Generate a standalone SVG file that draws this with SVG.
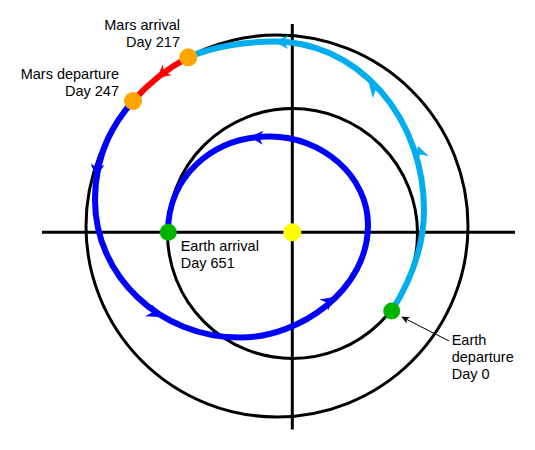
<svg xmlns="http://www.w3.org/2000/svg" xmlns:xlink="http://www.w3.org/1999/xlink" width="535" height="450" viewBox="0 0 535 450">
<defs>
<style>
.orbit{fill:none;stroke:#000;stroke-width:3}
.axis{stroke:#000;stroke-width:3}
.traj{fill:none;stroke-width:6}
.blue{stroke:#0000ff}
.lblue{stroke:#00aeef}
.red{stroke:#ff0000}
.lbl{font-family:"Liberation Sans",Arial,Helvetica,sans-serif;font-size:14.5px;fill:#000}
.end{text-anchor:end}
</style>
<path id="ah" d="M0,0 L-13,-7 L-9,0 L-13,7 Z"/>
<marker id="pt" viewBox="0 0 10 10" refX="9" refY="5" markerWidth="8" markerHeight="8" markerUnits="userSpaceOnUse" orient="auto">
<path d="M0,0.5 L10,5 L0,9.5 L2.5,5 Z" fill="#000"/>
</marker>
</defs>
<g id="orbits">
<circle class="orbit" cx="277" cy="226" r="191"/>
<circle class="orbit" cx="292.5" cy="233.5" r="125"/>
<line class="axis" x1="42" y1="232.3" x2="515" y2="232.3"/>
<line class="axis" x1="292.3" y1="24" x2="292.3" y2="429.5"/>
</g>
<g id="connectors">
<path class="traj blue" d="M133,101 C116.6,120 95,150 95,200 C95,276 160,337.5 240,337.5 C300,337.5 368,290 368,225 C368,176 322,136.5 270,136.5 C212,136.5 168,177 168,232"/>
<path class="traj lblue" d="M391.7,311 C408,285 424,250 424,210 A149,168.5 0 0 0 275,41.5 C245,41.5 212,47 188.3,57.3"/>
<path class="traj red" d="M188.3,57.3 A191,191 0 0 0 133,101"/>
<g fill="#0000ff">
<use xlink:href="#ah" transform="translate(96,177) rotate(97)"/>
<use xlink:href="#ah" transform="translate(160,317) rotate(31)"/>
<use xlink:href="#ah" transform="translate(334,297) rotate(-38)"/>
<use xlink:href="#ah" transform="translate(250,137) rotate(183)"/>
</g>
<g fill="#00aeef">
<use xlink:href="#ah" transform="translate(418,146) rotate(-108)"/>
<use xlink:href="#ah" transform="translate(369,84) rotate(-134)"/>
<use xlink:href="#ah" transform="translate(275,42) rotate(180)"/>
</g>
<use xlink:href="#ah" fill="#ff0000" transform="translate(157,78) rotate(141)"/>
<line x1="449" y1="341" x2="402" y2="317" stroke="#000" stroke-width="1" marker-end="url(#pt)"/>
</g>
<g id="sun">
<circle cx="292.3" cy="232.3" r="9" fill="#ffff00"/>
</g>
<g id="earth-departure">
<circle cx="391.7" cy="311" r="8.5" fill="#00b400"/>
<text class="lbl" x="451.7" y="345.3">Earth</text>
<text class="lbl" x="451.7" y="362">departure</text>
<text class="lbl" x="451.7" y="379">Day 0</text>
</g>
<g id="mars-arrival">
<circle cx="188.3" cy="57.3" r="9" fill="#ffa500"/>
<text class="lbl end" x="180" y="30">Mars arrival</text>
<text class="lbl end" x="180" y="46.7">Day 217</text>
</g>
<g id="mars-departure">
<circle cx="133" cy="101" r="9" fill="#ffa500"/>
<text class="lbl end" x="119" y="79">Mars departure</text>
<text class="lbl end" x="119" y="96">Day 247</text>
</g>
<g id="earth-arrival">
<circle cx="168.3" cy="232.3" r="8.5" fill="#00b400"/>
<text class="lbl" x="180.7" y="251">Earth arrival</text>
<text class="lbl" x="180.7" y="267.7">Day 651</text>
</g>
</svg>
